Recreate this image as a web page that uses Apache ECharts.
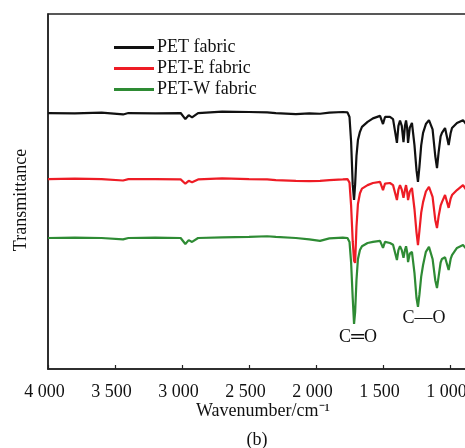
<!DOCTYPE html>
<html>
<head>
<meta charset="utf-8">
<script src="https://cdn.jsdelivr.net/npm/echarts@6/dist/echarts.min.js"></script>
<style>
html,body{margin:0;padding:0;background:#fff;}
#chart{width:465px;height:448px;}
</style>
</head>
<body>
<div id="chart"></div>
<script>
const seriesNames = ['PET fabric', 'PET-E fabric', 'PET-W fabric'];
const seriesColors = ['#111111', '#ee1c25', '#2e8b34'];

const wavenumbers = [4000, 3800, 3600, 3440, 3400, 3200, 3010, 2975, 2950, 2925,
  2880, 2700, 2500, 2365, 2300, 2150, 2050, 1970, 1900, 1800,
  1765, 1750, 1738, 1726, 1716, 1708, 1698, 1687, 1672, 1657,
  1615, 1575, 1522, 1500, 1485, 1448, 1425, 1396, 1385, 1373,
  1360, 1347, 1336, 1328, 1320, 1313, 1300, 1284, 1265, 1250,
  1239, 1228, 1215, 1201, 1180, 1157, 1130, 1110, 1097, 1085,
  1070, 1060, 1037, 1010, 995, 985, 948, 903, 870, 850];

const petT = [72.1, 72.0, 72.2, 71.7, 72.1, 72.0, 72.1, 70.4, 71.5, 70.9,
  72.1, 72.5, 72.4, 72.3, 72.1, 71.8, 72.0, 71.9, 72.2, 72.4,
  72.3, 71.0, 64.0, 52.0, 47.6, 52.0, 60.0, 64.5, 66.8, 68.2,
  69.6, 70.6, 71.3, 69.0, 71.0, 71.0, 70.4, 63.7, 68.5, 70.0,
  68.5, 63.9, 68.5, 70.0, 68.0, 63.7, 68.0, 69.3, 63.0, 56.0,
  52.7, 57.0, 63.0, 66.5, 69.0, 70.1, 67.5, 60.0, 56.6, 61.0,
  65.5, 66.5, 67.9, 63.1, 66.5, 67.9, 69.3, 70.1, 68.5, 70.5];

const peteT = [53.5, 53.6, 53.5, 53.1, 53.5, 53.5, 53.4, 52.2, 53.0, 52.6,
  53.4, 53.7, 53.5, 53.4, 53.2, 53.0, 52.9, 53.0, 53.2, 53.4,
  53.5, 52.5, 46.0, 36.0, 30.5, 29.9, 40.0, 46.5, 49.5, 50.8,
  51.8, 52.4, 52.7, 50.4, 52.2, 52.4, 51.8, 47.6, 50.5, 51.8,
  50.5, 48.2, 50.5, 51.8, 50.0, 47.6, 50.0, 51.0, 45.0, 38.5,
  34.9, 39.0, 44.0, 47.0, 50.0, 51.3, 48.5, 42.0, 39.7, 43.0,
  46.0, 47.0, 49.0, 45.4, 48.0, 49.0, 50.4, 51.8, 50.0, 52.0];

const petwT = [36.9, 37.0, 36.9, 36.5, 36.9, 37.0, 36.9, 35.2, 36.3, 35.8,
  36.9, 37.1, 37.2, 37.4, 37.2, 36.9, 36.5, 36.1, 36.8, 37.0,
  36.9, 35.8, 30.0, 20.0, 12.7, 16.0, 25.0, 31.0, 33.5, 34.6,
  35.5, 35.8, 36.1, 34.1, 35.8, 35.5, 35.0, 30.7, 33.5, 34.6,
  33.5, 31.3, 33.5, 34.6, 33.0, 30.1, 32.5, 33.0, 27.0, 20.0,
  17.5, 21.0, 26.0, 29.3, 33.0, 34.4, 31.0, 25.0, 22.8, 26.0,
  30.0, 31.0, 31.5, 27.9, 31.0, 32.1, 34.1, 34.9, 33.5, 35.5];

const tickValues = [500, 1000, 1500, 2000, 2500, 3000, 3500, 4000];
const tickLabels = ['500', '1 000', '1 500', '2 000', '2 500', '3 000', '3 500', '4 000'];

const annotations = [
  { text: 'C═O', x: 358, y: 337 },
  { text: 'C—O', x: 424, y: 318 }
];

const FONT = 'Liberation Serif, Times New Roman, serif';
const allT = [petT, peteT, petwT];

const chart = echarts.init(document.getElementById('chart'), null, { renderer: 'canvas' });
chart.setOption({
  animation: false,
  backgroundColor: '#ffffff',
  grid: { left: 48, top: 14, width: 469, height: 355, outerBoundsMode: 'none', containLabel: false, show: true, borderColor: '#222', borderWidth: 1.5, backgroundColor: 'transparent' },
  legend: {
    data: seriesNames,
    orient: 'vertical',
    left: 109, top: 32,
    icon: 'rect',
    itemWidth: 40, itemHeight: 3,
    itemGap: 0,
    textStyle: { fontFamily: FONT, fontSize: 18, color: '#111', lineHeight: 21, padding: [0, 0, 0, -2] }
  },
  xAxis: {
    type: 'value', inverse: true, min: 500, max: 4000, interval: 500,
    axisLine: { show: true, lineStyle: { color: '#222', width: 1.5 } },
    axisTick: { show: true, inside: true, length: 4, lineStyle: { color: '#222', width: 1.2 } },
    splitLine: { show: false },
    axisLabel: {
      fontFamily: FONT, fontSize: 18, color: '#111', margin: 14, padding: [0, 7, 0, 0],
      formatter: v => { const i = tickValues.indexOf(v); return i >= 0 ? tickLabels[i] : ''; }
    }
  },
  yAxis: {
    type: 'value', min: 0, max: 100,
    axisLine: { show: true, lineStyle: { color: '#222', width: 1.5 } },
    axisTick: { show: false }, axisLabel: { show: false }, splitLine: { show: false }
  },
  series: seriesNames.map((n, i) => ({
    name: n, type: 'line', showSymbol: false, symbol: 'none',
    data: wavenumbers.map((w, j) => [w, allT[i][j]]),
    lineStyle: { color: seriesColors[i], width: 2.2 },
    itemStyle: { color: seriesColors[i] },
    z: 3 - i
  })),
  graphic: [
    { type: 'text', x: 0, y: 0, style: { text: 'Wavenumber/cm⁻¹', font: '18px ' + FONT, fill: '#111', x: 263, y: 411, textAlign: 'center', textVerticalAlign: 'middle' } },
    { type: 'text', x: 0, y: 0, style: { text: '(b)', font: '18px ' + FONT, fill: '#111', x: 257, y: 440, textAlign: 'center', textVerticalAlign: 'middle' } },
    { type: 'text', x: 21, y: 200, rotation: Math.PI / 2, style: { text: 'Transmittance', font: '18px ' + FONT, fill: '#111', x: 0, y: 0, textAlign: 'center', textVerticalAlign: 'middle' } }
  ].concat(annotations.map(a => ({
    type: 'text', x: 0, y: 0,
    style: { text: a.text, font: '18px ' + FONT, fill: '#111', x: a.x, y: a.y, textAlign: 'center', textVerticalAlign: 'middle' }
  })))
});
</script>
</body>
</html>
